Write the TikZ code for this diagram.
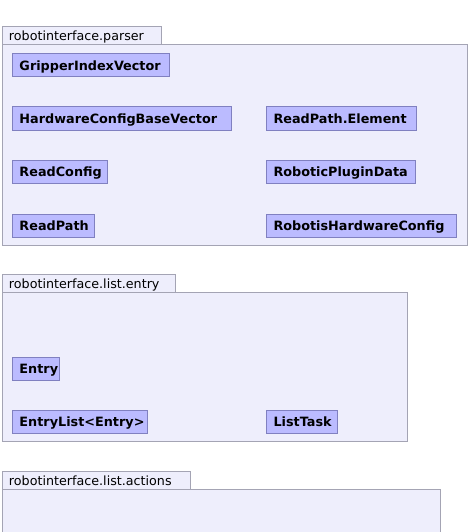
\documentclass[tikz,border=0pt]{standalone}
\usepackage{fontspec}
\setmainfont{DejaVu Sans}
\definecolor{pkgfill}{HTML}{EEEEFC}
\definecolor{pkgdraw}{HTML}{A4A4B4}
\definecolor{clsfill}{HTML}{BBBBFF}
\definecolor{clsdraw}{HTML}{8080C0}
\tikzset{
  pkgbody/.style={draw=pkgdraw, fill=pkgfill, line width=1pt, anchor=north west, inner sep=0pt},
  pkgtab/.style={draw=pkgdraw, fill=pkgfill, line width=1pt, anchor=north west, inner ysep=0pt,
    inner xsep=6.5pt, font=\fontsize{12.7}{15}\selectfont, minimum height=18pt, align=left,
    text height=9.6pt, text depth=0pt},
  cls/.style={draw=clsdraw, fill=clsfill, line width=1pt, anchor=north west, inner ysep=0pt,
    inner xsep=7pt, align=left, minimum height=23pt, text height=9.3pt, text depth=0pt,
    font=\fontsize{12.8}{15}\selectfont\bfseries}
}
\begin{document}
\begin{tikzpicture}[x=1pt,y=-1pt]
\useasboundingbox (0,0) rectangle (471,532);
\clip (0,0) rectangle (471,532);
% package 1
\node[pkgbody, minimum width=465pt, minimum height=201pt] (p1) at (2,44) {};
\node[pkgtab, text width=146pt] (p1t) at (2,26) {robotinterface.parser};
\node[cls, text width=142.5pt] (giv) at (12,53.5) {GripperIndexVector};
\node[cls, text width=204.5pt] (hcbv) at (12,106.5) {HardwareConfigBaseVector};
\node[cls, text width=81pt] (rc) at (12,160) {ReadConfig};
\node[cls, text width=68pt] (rp) at (12,213.5) {ReadPath};
\node[cls, text width=135.5pt] (rpe) at (266,106.5) {ReadPath.Element};
\node[cls, text width=135pt] (rpd) at (266,160) {RoboticPluginData};
\node[cls, text width=176pt] (rhc) at (266,213.5) {RobotisHardwareConfig};
% package 2
\node[pkgbody, minimum width=405pt, minimum height=149pt] (p2) at (2,292) {};
\node[pkgtab, text width=160pt] (p2t) at (2,274) {robotinterface.list.entry};
\node[cls, text width=33pt] (en) at (12,357) {Entry};
\node[cls, text width=121pt] (el) at (12,409.5) {EntryList<Entry>};
\node[cls, text width=56.5pt] (lt) at (266,409.5) {ListTask};
% package 3
\node[pkgbody, minimum width=438pt, minimum height=60pt] (p3) at (2,489) {};
\node[pkgtab, text width=175pt] (p3t) at (2,471) {robotinterface.list.actions};
\end{tikzpicture}
\end{document}
